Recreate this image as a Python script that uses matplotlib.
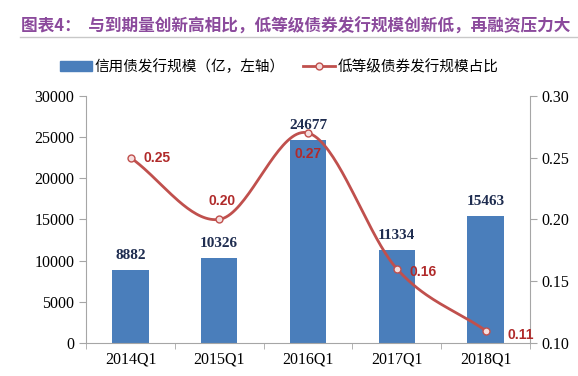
import numpy as np
import matplotlib
matplotlib.use('Agg')
import matplotlib.pyplot as plt
from matplotlib.lines import Line2D
from matplotlib.patches import Patch

plt.rcParams['font.family'] = ['Noto Sans CJK SC', 'DejaVu Sans']

# data
quarters = ['2014Q1', '2015Q1', '2016Q1', '2017Q1', '2018Q1']
issuance = [8882, 10326, 24677, 11334, 15463]
low_share = [0.25, 0.20, 0.27, 0.16, 0.11]
share_labels = ['0.25', '0.20', '0.27', '0.16', '0.11']

bar_col = '#4a7ebb'
line_col = '#c0504d'
lab_col = '#b02a2a'
navy = '#1f2d50'
grey = '#a6a6a6'
serif = ['Liberation Serif', 'DejaVu Serif']


def smooth(x, y, n=40):
    # catmull-rom style smoothing, like excel "smoothed line"
    x = np.asarray(x, float)
    y = np.asarray(y, float)
    px = np.concatenate([[2 * x[0] - x[1]], x, [2 * x[-1] - x[-2]]])
    py = np.concatenate([[2 * y[0] - y[1]], y, [2 * y[-1] - y[-2]]])
    xs, ys = [], []
    for i in range(1, len(px) - 2):
        t = np.linspace(0, 1, n)
        for p, out in ((px, xs), (py, ys)):
            p0, p1, p2, p3 = p[i - 1], p[i], p[i + 1], p[i + 2]
            out.extend(0.5 * ((2 * p1) + (-p0 + p2) * t
                              + (2 * p0 - 5 * p1 + 4 * p2 - p3) * t ** 2
                              + (-p0 + 3 * p1 - 3 * p2 + p3) * t ** 3))
    return np.array(xs), np.array(ys)


fig = plt.figure(figsize=(5.78, 3.76), dpi=100)
ax = fig.add_axes([0.149, 0.088, 0.768, 0.657])
ax2 = ax.twinx()

x = np.arange(len(quarters))
ax.bar(x, issuance, width=0.41, color=bar_col, zorder=2)
for xi, v in zip(x, issuance):
    ax.text(xi, v + 900, str(v), ha='center', va='bottom', fontsize=11,
            fontweight='bold', color=navy, family=serif)

ax.set_xlim(-0.5, len(quarters) - 0.5)
ax.set_ylim(0, 30000)
ax.set_yticks(np.arange(0, 30001, 5000))
ax.set_xticks(x)
ax.set_xticklabels(quarters, family=serif, fontsize=11.5)
ax.set_xticks(np.arange(-0.5, len(quarters), 1), minor=True)
ax.tick_params(axis='x', which='major', length=0, pad=6)
ax.tick_params(axis='x', which='minor', length=4, color=grey, direction='out')
ax.tick_params(axis='y', length=5, color=grey, direction='out', labelsize=11.5)
for lab in ax.get_yticklabels():
    lab.set_family(serif)

sx, sy = smooth(x, low_share)
ax2.plot(sx, sy, color=line_col, lw=2, zorder=3)
ax2.plot(x, low_share, ls='none', marker='o', ms=5, mfc='#f6dede',
         mec=line_col, mew=1, zorder=4)
ax2.set_ylim(0.10, 0.30)
ax2.set_yticks([0.10, 0.15, 0.20, 0.25, 0.30])
ax2.set_yticklabels(['0.10', '0.15', '0.20', '0.25', '0.30'], family=serif, fontsize=11.5)
ax2.tick_params(axis='y', length=5, color=grey, direction='out')

offsets = [(9, 0, 'left', 'center'), (2, 8, 'center', 'bottom'),
           (0, -10, 'center', 'top'), (9, -2, 'left', 'center'),
           (16, -3, 'left', 'center')]
for xi, v, s, (dx, dy, ha, va) in zip(x, low_share, share_labels, offsets):
    ax2.annotate(s, (xi, v), xytext=(dx, dy), textcoords='offset points',
                 ha=ha, va=va, fontsize=10, fontweight='bold', color=lab_col,
                 family=['Liberation Sans', 'DejaVu Sans'], zorder=5)

for a in (ax, ax2):
    a.spines['top'].set_visible(False)
    for s in ('left', 'right', 'bottom'):
        a.spines[s].set_color(grey)
    a.set_facecolor('none')
ax.spines['right'].set_visible(False)
ax2.spines['left'].set_visible(False)
ax2.spines['bottom'].set_visible(False)
ax.set_zorder(1)
ax2.set_zorder(2)

# title and rule
fig.text(0.036, 0.928, '图表4：  与到期量创新高相比，低等级债券发行规模创新低，再融资压力大',
         fontsize=12, fontweight='bold', color='#8b4a9c', va='center')
fig.add_artist(Line2D([0.035, 1.0], [0.902, 0.902], color='#c8c8c8', lw=1))

handles = [Patch(color=bar_col),
           Line2D([], [], color=line_col, lw=2, marker='o', ms=5,
                  mfc='#f6dede', mec=line_col)]
fig.legend(handles, ['信用债发行规模（亿，左轴）', '低等级债券发行规模占比'],
           loc='center', bbox_to_anchor=(0.483, 0.822), ncol=2, frameon=False,
           fontsize=10.5, handlelength=2.2, columnspacing=1.2, handletextpad=0.2)

fig.savefig('out.png', dpi=100)
